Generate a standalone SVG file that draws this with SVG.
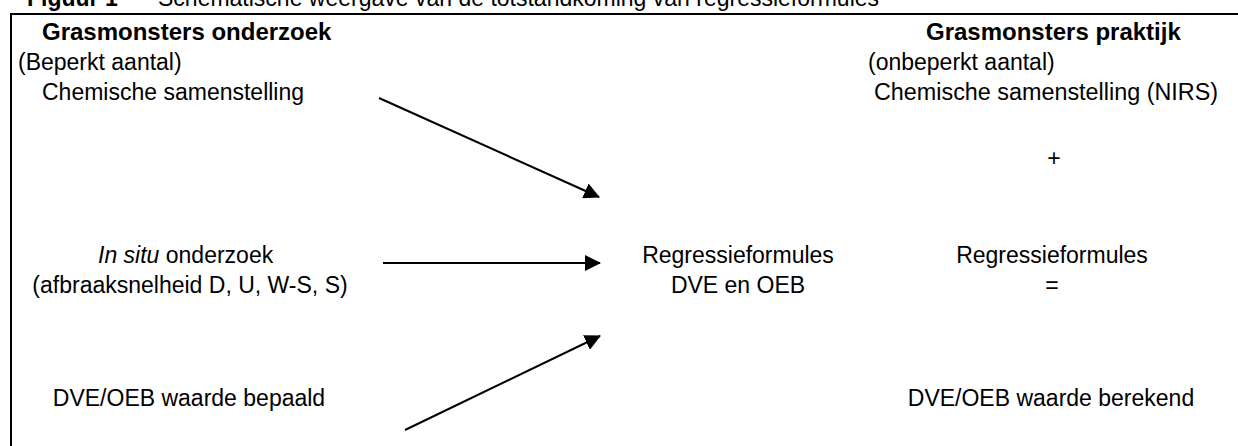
<svg xmlns="http://www.w3.org/2000/svg" width="1238" height="446" viewBox="0 0 1238 446">
<style>
text{font-family:"Liberation Sans",Arial,sans-serif;font-size:23px;fill:#000}
.b{font-weight:bold}
.h{font-weight:bold;font-size:24px}
.m{text-anchor:middle}
.c{stroke:#000;stroke-width:2;fill:none}
</style>
<defs>
<marker id="ah" viewBox="0 0 16 16" refX="15" refY="8" markerWidth="16" markerHeight="16" markerUnits="userSpaceOnUse" orient="auto">
<path d="M0,0 L16,8 L0,16 Z" fill="#000"/>
</marker>
</defs>
<rect width="1238" height="446" fill="#fff"/>
<g id="title"><text x="27" y="6"><tspan class="b">Figuur 1</tspan><tspan x="158">Schematische weergave van de totstandkoming van regressieformules</tspan></text></g>
<path id="frame" class="c" d="M11,460 V14 H1240"/>
<g id="onderzoek">
<text class="h" x="42" y="40">Grasmonsters onderzoek</text>
<text x="18" y="70">(Beperkt aantal)</text>
<text x="42" y="100">Chemische samenstelling</text>
</g>
<g id="insitu">
<text x="98" y="263"><tspan font-style="italic">In situ</tspan> onderzoek</text>
<text class="m" x="190" y="293">(afbraaksnelheid D, U, W-S, S)</text>
</g>
<g id="bepaald"><text class="m" x="189" y="406">DVE/OEB waarde bepaald</text></g>
<g id="regressie">
<text class="m" x="738" y="263">Regressieformules</text>
<text class="m" x="738" y="293">DVE en OEB</text>
</g>
<g id="praktijk">
<text class="h" x="926" y="40">Grasmonsters praktijk</text>
<text x="868" y="70">(onbeperkt aantal)</text>
<text x="874" y="100" textLength="344" lengthAdjust="spacingAndGlyphs">Chemische samenstelling (NIRS)</text>
<text class="m" x="1054" y="166">+</text>
<text class="m" x="1052" y="263">Regressieformules</text>
<text class="m" x="1052" y="293">=</text>
<text class="m" x="1051" y="406">DVE/OEB waarde berekend</text>
</g>
<g id="connectors">
<line class="c" x1="379" y1="98" x2="599" y2="197" marker-end="url(#ah)"/>
<line class="c" x1="383" y1="263" x2="600" y2="263" marker-end="url(#ah)"/>
<line class="c" x1="405" y1="430" x2="600" y2="336" marker-end="url(#ah)"/>
</g>
</svg>
